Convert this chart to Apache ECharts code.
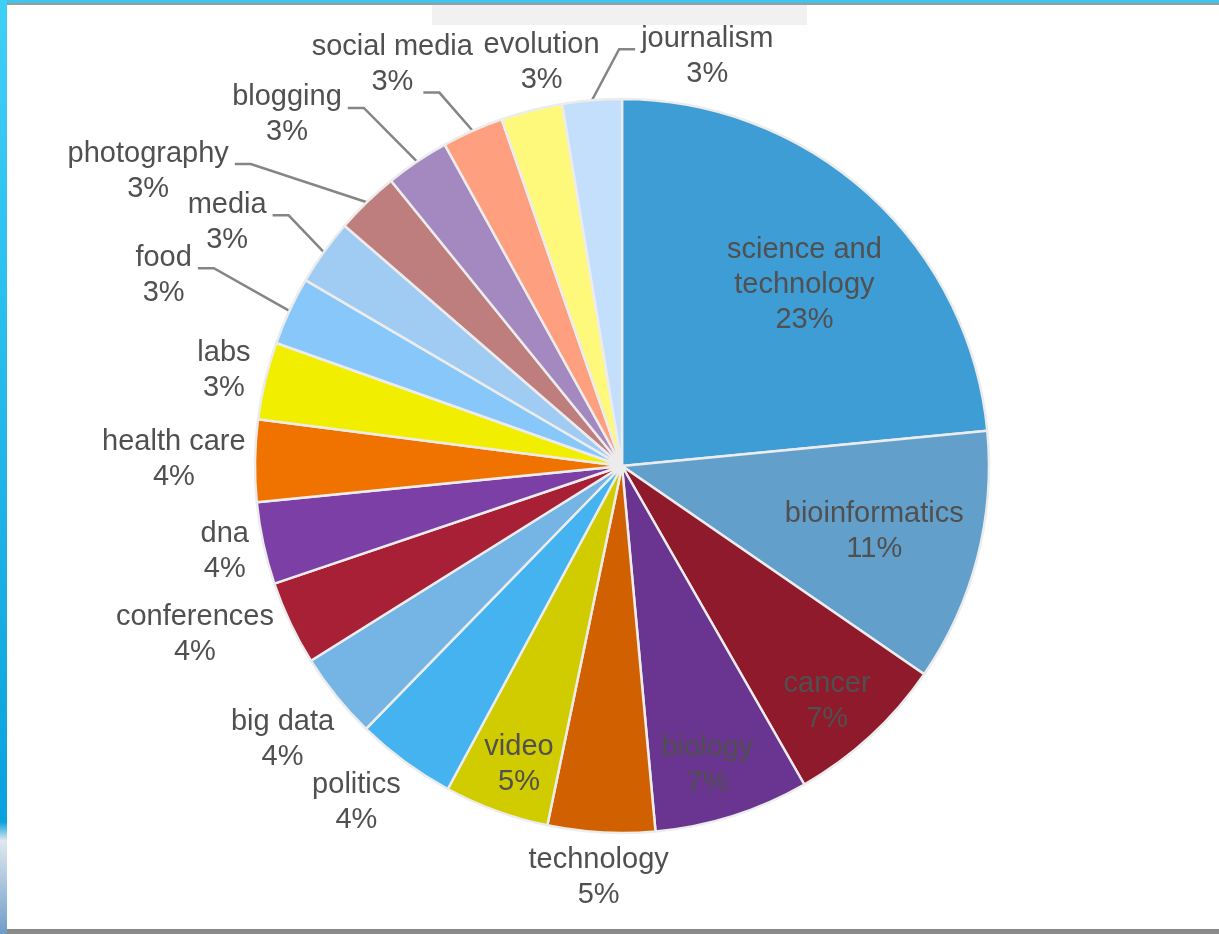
<!DOCTYPE html>
<html>
  <head>
    <meta charset="UTF-8" />
    <title>tags</title>
    <script src="https://cdn.jsdelivr.net/npm/echarts@6/dist/echarts.min.js"></script>
    <style>
      html,
      body {
        margin: 0;
        padding: 0;
        background: #fff;
      }
      .frame {
        position: relative;
        width: 1219px;
        height: 934px;
        overflow: hidden;
        background: #fff;
      }
      #main {
        position: absolute;
        left: 0;
        top: 0;
        width: 1219px;
        height: 934px;
      }
      .edge-left {
        position: absolute;
        left: 0;
        top: 0;
        width: 7px;
        height: 934px;
        background: linear-gradient(#3fd0f7, #0aa2dd 88%, #dfe8ee 90%, #6f9cc8);
      }
      .edge-top {
        position: absolute;
        left: 0;
        top: 0;
        width: 1219px;
        height: 3px;
        background: #3cc6ef;
        border-bottom: 2px solid #9c9c9c;
      }
      .edge-bottom {
        position: absolute;
        left: 7px;
        top: 929px;
        width: 1212px;
        height: 5px;
        background: #8a8a8a;
      }
      .smudge {
        position: absolute;
        left: 432px;
        top: 5px;
        width: 375px;
        height: 20px;
        background: #f1f1f1;
      }
    </style>
  </head>
  <body>
    <div class="frame">
      <div id="main"></div>
      <div class="smudge"></div>
      <div class="edge-top"></div>
      <div class="edge-left"></div>
      <div class="edge-bottom"></div>
    </div>
  </body>
  <script>
    // 数据
    var categories = [
      "science and technology",
      "bioinformatics",
      "cancer",
      "biology",
      "technology",
      "video",
      "politics",
      "big data",
      "conferences",
      "dna",
      "health care",
      "labs",
      "food",
      "media",
      "photography",
      "blogging",
      "social media",
      "evolution",
      "journalism",
    ];
    var values = [
      23.4, 11.1, 7.1, 6.8, 4.7, 4.6, 4.4, 3.8, 3.7, 3.6, 3.6, 3.4, 3.0, 2.9,
      2.8, 2.8, 2.7, 2.7, 2.6,
    ];
    var palette = [
      "#3d9dd4", "#62a0cb", "#8f1a2b", "#6a3590", "#d06000", "#d0cc00",
      "#45b3f0", "#75b5e5", "#a82035", "#7c3fa5", "#f07300", "#f2ee00",
      "#87c7fa", "#a0cbf3", "#bf7e7e", "#a389bf", "#fea07f", "#fff97b",
      "#c3dffb",
    ];

    var CX = 622,
      CY = 466,
      R = 367;
    var textColor = "#505050";
    var fontFamily = "'Liberation Sans', Arial, sans-serif";

    // 标签摆放方式
    var place = {
      "science and technology": { inside: 0.7, turn: 3 },
      bioinformatics: { inside: 0.71 },
      cancer: { inside: 0.85, turn: 1.5 },
      biology: { inside: 0.85, turn: 1.6 },
      video: { inside: 0.86, turn: -1 },
      politics: { turn: 2 },
      conferences: { gap: 7, turn: 3.8 },
      evolution: { gap: 2, turn: 3 },
      food: { line: 101 },
      media: { line: 63 },
      photography: { line: 124, turn: -8 },
      blogging: { line: 84, turn: -3.5 },
      "social media": { line: 56, turn: -4, at: [-31, -28] },
      journalism: { line: 50, turn: 6.5, side: 1 },
    };

    var total = values.reduce(function (s, v) {
      return s + v;
    }, 0);
    var midAngles = [];
    var acc = 0;
    values.forEach(function (v) {
      midAngles.push(((acc + v / 2) / total) * 360);
      acc += v;
    });

    function polar(a, d) {
      var t = (a * Math.PI) / 180;
      return [CX + d * Math.sin(t), CY - d * Math.cos(t)];
    }

    function labelText(name, v) {
      var lines;
      if (name.length > 14) {
        var k = name.lastIndexOf(" ");
        lines = [name.slice(0, k), name.slice(k + 1)];
      } else {
        lines = [name];
      }
      lines.push(Math.round((v / total) * 100) + "%");
      return lines
        .map(function (s) {
          return "{t|" + s + "}";
        })
        .join("\n");
    }

    var pieData = categories.map(function (name, i) {
      var cfg = place[name] || {};
      return {
        name: name,
        value: values[i],
        label: { position: cfg.inside ? "inside" : "outside" },
        labelLine: { show: !!cfg.line },
      };
    });

    var myChart = echarts.init(document.getElementById("main"));
    myChart.setOption({
      animation: false,
      color: palette,
      series: [
        {
          type: "pie",
          center: [CX, CY],
          radius: [0, R],
          startAngle: 90,
          clockwise: true,
          avoidLabelOverlap: false,
          data: pieData,
          itemStyle: {
            borderColor: "#ececec",
            borderWidth: 2.5,
          },
          emphasis: { disabled: true },
          label: {
            show: true,
            color: textColor,
            fontFamily: fontFamily,
            fontSize: 29,
            formatter: function (p) {
              return labelText(p.name, p.value);
            },
            rich: {
              t: {
                fontSize: 29,
                lineHeight: 35,
                align: "center",
                color: textColor,
                fontFamily: fontFamily,
              },
            },
          },
          labelLine: {
            lineStyle: { color: "#858585", width: 2.5 },
          },
          labelLayout: function (p) {
            var i = p.dataIndex;
            var cfg = place[categories[i]] || {};
            var a = midAngles[i] + (cfg.turn || 0);
            var w = p.labelRect.width,
              h = p.labelRect.height;
            var c;
            if (cfg.inside) {
              c = polar(a, cfg.inside * R);
              return { x: c[0], y: c[1], align: "center", verticalAlign: "middle" };
            }
            if (cfg.line) {
              var side = cfg.side || (Math.sin((a * Math.PI) / 180) < 0 ? -1 : 1);
              var e = polar(a, R + cfg.line);
              var b = [e[0] - side * 16, e[1]];
              var pts = [polar(midAngles[i], R), b, e];
              if (cfg.at) {
                return {
                  x: e[0] + cfg.at[0],
                  y: e[1] + cfg.at[1],
                  align: "center",
                  verticalAlign: "middle",
                  labelLinePoints: pts,
                };
              }
              return {
                x: e[0] + side * 6,
                y: e[1] + 7,
                align: side < 0 ? "right" : "left",
                verticalAlign: "middle",
                labelLinePoints: pts,
              };
            }
            var t = (a * Math.PI) / 180;
            var gap = cfg.gap != null ? cfg.gap : 9;
            var d = R + gap + (Math.abs(Math.sin(t)) * w) / 2 + (Math.abs(Math.cos(t)) * h) / 2;
            c = polar(a, d);
            return { x: c[0], y: c[1], align: "center", verticalAlign: "middle" };
          },
        },
      ],
    });
  </script>
</html>
